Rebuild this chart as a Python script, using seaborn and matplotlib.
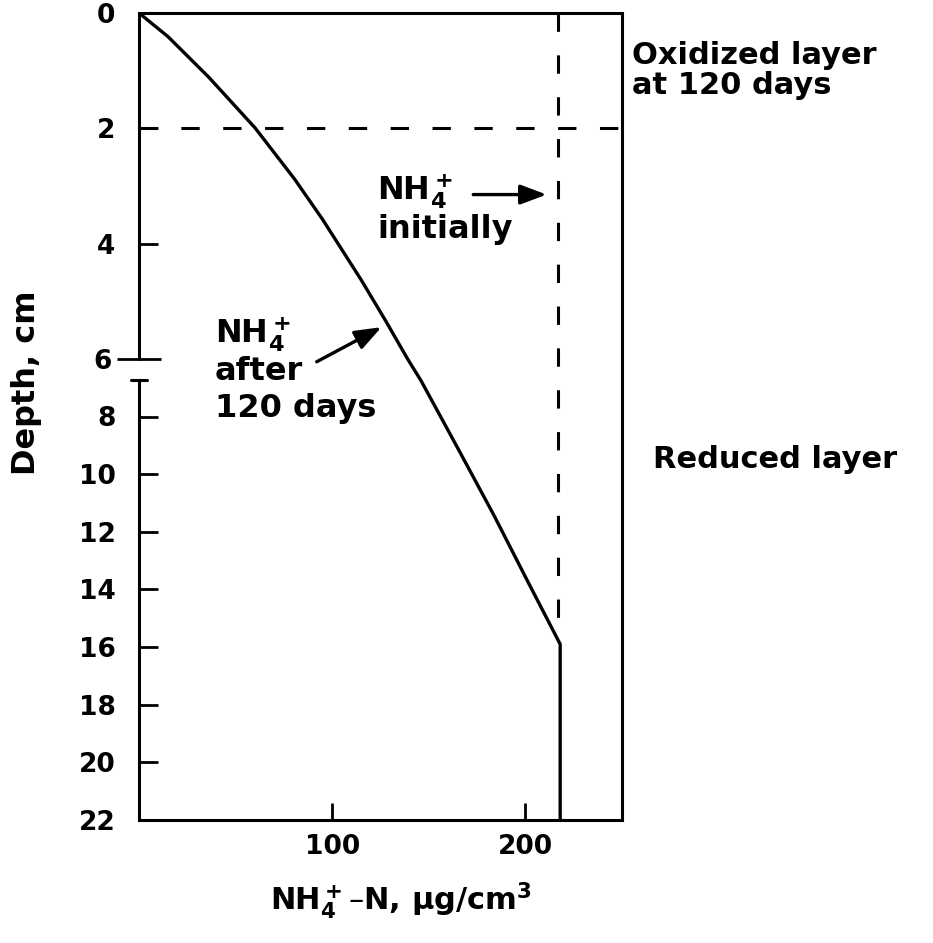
import numpy as np
import matplotlib
matplotlib.use('Agg')
import matplotlib.pyplot as plt
from matplotlib.ticker import FixedLocator, FixedFormatter, NullLocator, StrMethodFormatter
import seaborn as sns

# NH4+ profile after 120 days (depth cm, NH4+-N ug/cm3)
depth_after = [0, 0.41, 1.11, 1.99, 2.88, 3.58, 4.63, 5.33, 6.0, 6.76, 9.1, 11.4, 13.76, 15.9, 22]
nh4_after = [0, 15, 36, 60, 80.5, 95, 115, 127.5, 139, 146, 165, 183.5, 201.5, 218, 218]

# initial NH4+ level (dashed line)
depth_initial = [0, 15.6]
nh4_initial = [217, 217]

# depth of the oxidized / reduced boundary
oxidized_depth = 2

x_ticks = [100, 200]
y_ticks = [0, 2, 4, 8, 10, 12, 14, 16, 18, 20, 22]
y_break_ticks = [6]
break_low, break_high = 6, 6.75


# broken depth axis: 0-6 cm drawn at twice the scale of the rest
def fwd(d):
    d = np.asarray(d, dtype=float)
    return np.where(d <= 6, 2 * d, d + 6)


def inv(u):
    u = np.asarray(u, dtype=float)
    return np.where(u <= 12, u / 2, u - 6)


sns.set_style("white")
plt.rcParams['font.family'] = ['DejaVu Sans']
plt.rcParams['font.weight'] = 'bold'
plt.rcParams['axes.labelweight'] = 'bold'
plt.rcParams['mathtext.fontset'] = 'dejavusans'
plt.rcParams['mathtext.default'] = 'bf'
for key in ['text.color', 'axes.labelcolor', 'xtick.color', 'ytick.color',
            'axes.edgecolor']:
    plt.rcParams[key] = 'black'

W, H = 933, 943
fig = plt.figure(figsize=(W / 100, H / 100), dpi=100)
ax = fig.add_axes([139 / W, 1 - 820 / H, 483 / W, 807 / H])

dash = (0, (6, 7.7))

sns.lineplot(x=nh4_after, y=depth_after, sort=False, estimator=None,
             color='black', lw=2.4, ax=ax)
sns.lineplot(x=nh4_initial, y=depth_initial, sort=False, estimator=None,
             color='black', lw=2.2, linestyle=dash, ax=ax)
ax.axhline(oxidized_depth, color='black', lw=2.2, linestyle=dash)

ax.set_yscale('function', functions=(fwd, inv))
ax.set_xlim(0, 250)
ax.set_ylim(22, 0)

# ticks
ax.yaxis.set_major_locator(FixedLocator(y_ticks))
ax.yaxis.set_major_formatter(StrMethodFormatter('{x:g}'))
ax.yaxis.set_minor_locator(FixedLocator(y_break_ticks))
ax.yaxis.set_minor_formatter(FixedFormatter([str(v) for v in y_break_ticks]))
ax.xaxis.set_major_locator(FixedLocator(x_ticks))
ax.xaxis.set_major_formatter(StrMethodFormatter('{x:g}'))
ax.xaxis.set_minor_locator(NullLocator())
ax.tick_params(axis='y', which='major', direction='in', length=14, width=2,
               pad=17, labelsize=19, left=True)
ax.tick_params(axis='y', which='minor', direction='inout', length=31, width=2,
               pad=4, labelsize=19, left=True, labelleft=True)
ax.tick_params(axis='x', which='major', direction='in', length=12, width=2,
               pad=10, labelsize=19, bottom=True)

# frame with a break in the depth axis
for s in ax.spines.values():
    s.set_linewidth(2.2)
    s.set_color('black')
ax.spines['left'].set_bounds(break_high, 22)
ytr = ax.get_yaxis_transform()
ax.plot([0, 0], [0, break_low], transform=ytr, color='black', lw=2.2,
        clip_on=False)
ax.plot([-0.017, 0.017], [break_high, break_high], transform=ytr,
        color='black', lw=2.2, clip_on=False)

ax.set_xlabel('')
ax.set_ylabel('Depth, cm', fontsize=23, fontweight='bold', color='black')
ax.yaxis.set_label_coords(-0.2, 0.5415)

# arrows
arrow_kw = dict(arrowstyle='-|>,head_length=0.8,head_width=0.3', lw=2.4,
                color='black', shrinkA=0, shrinkB=0, mutation_scale=20)
ax.annotate('', xy=(211, 3.15), xytext=(173, 3.15), arrowprops=arrow_kw)
ax.annotate('', xy=(125.5, 5.45), xytext=(92, 6.1), arrowprops=arrow_kw)


def ftext(px, py, s, **kw):
    fig.text(px / W, 1 - py / H, s, va='baseline', ha='left', color='black',
             fontweight='bold', **kw)


ftext(377, 200, 'NH$_4^+$', fontsize=23)
ftext(377, 238, 'initially', fontsize=23)
ftext(215, 343, 'NH$_4^+$', fontsize=23)
ftext(215, 380, 'after', fontsize=23)
ftext(215, 417, '120 days', fontsize=23)
ftext(632, 64, 'Oxidized layer', fontsize=22)
ftext(632, 94, 'at 120 days', fontsize=22)
ftext(653, 468, 'Reduced layer', fontsize=22)
fig.text(401 / W, 1 - 910 / H, 'NH$_4^+$\u2013N, \u00b5g/cm$^3$',
         ha='center', va='baseline', fontsize=22, color='black',
         fontweight='bold')

fig.savefig('out.png', dpi=100, facecolor='white')
